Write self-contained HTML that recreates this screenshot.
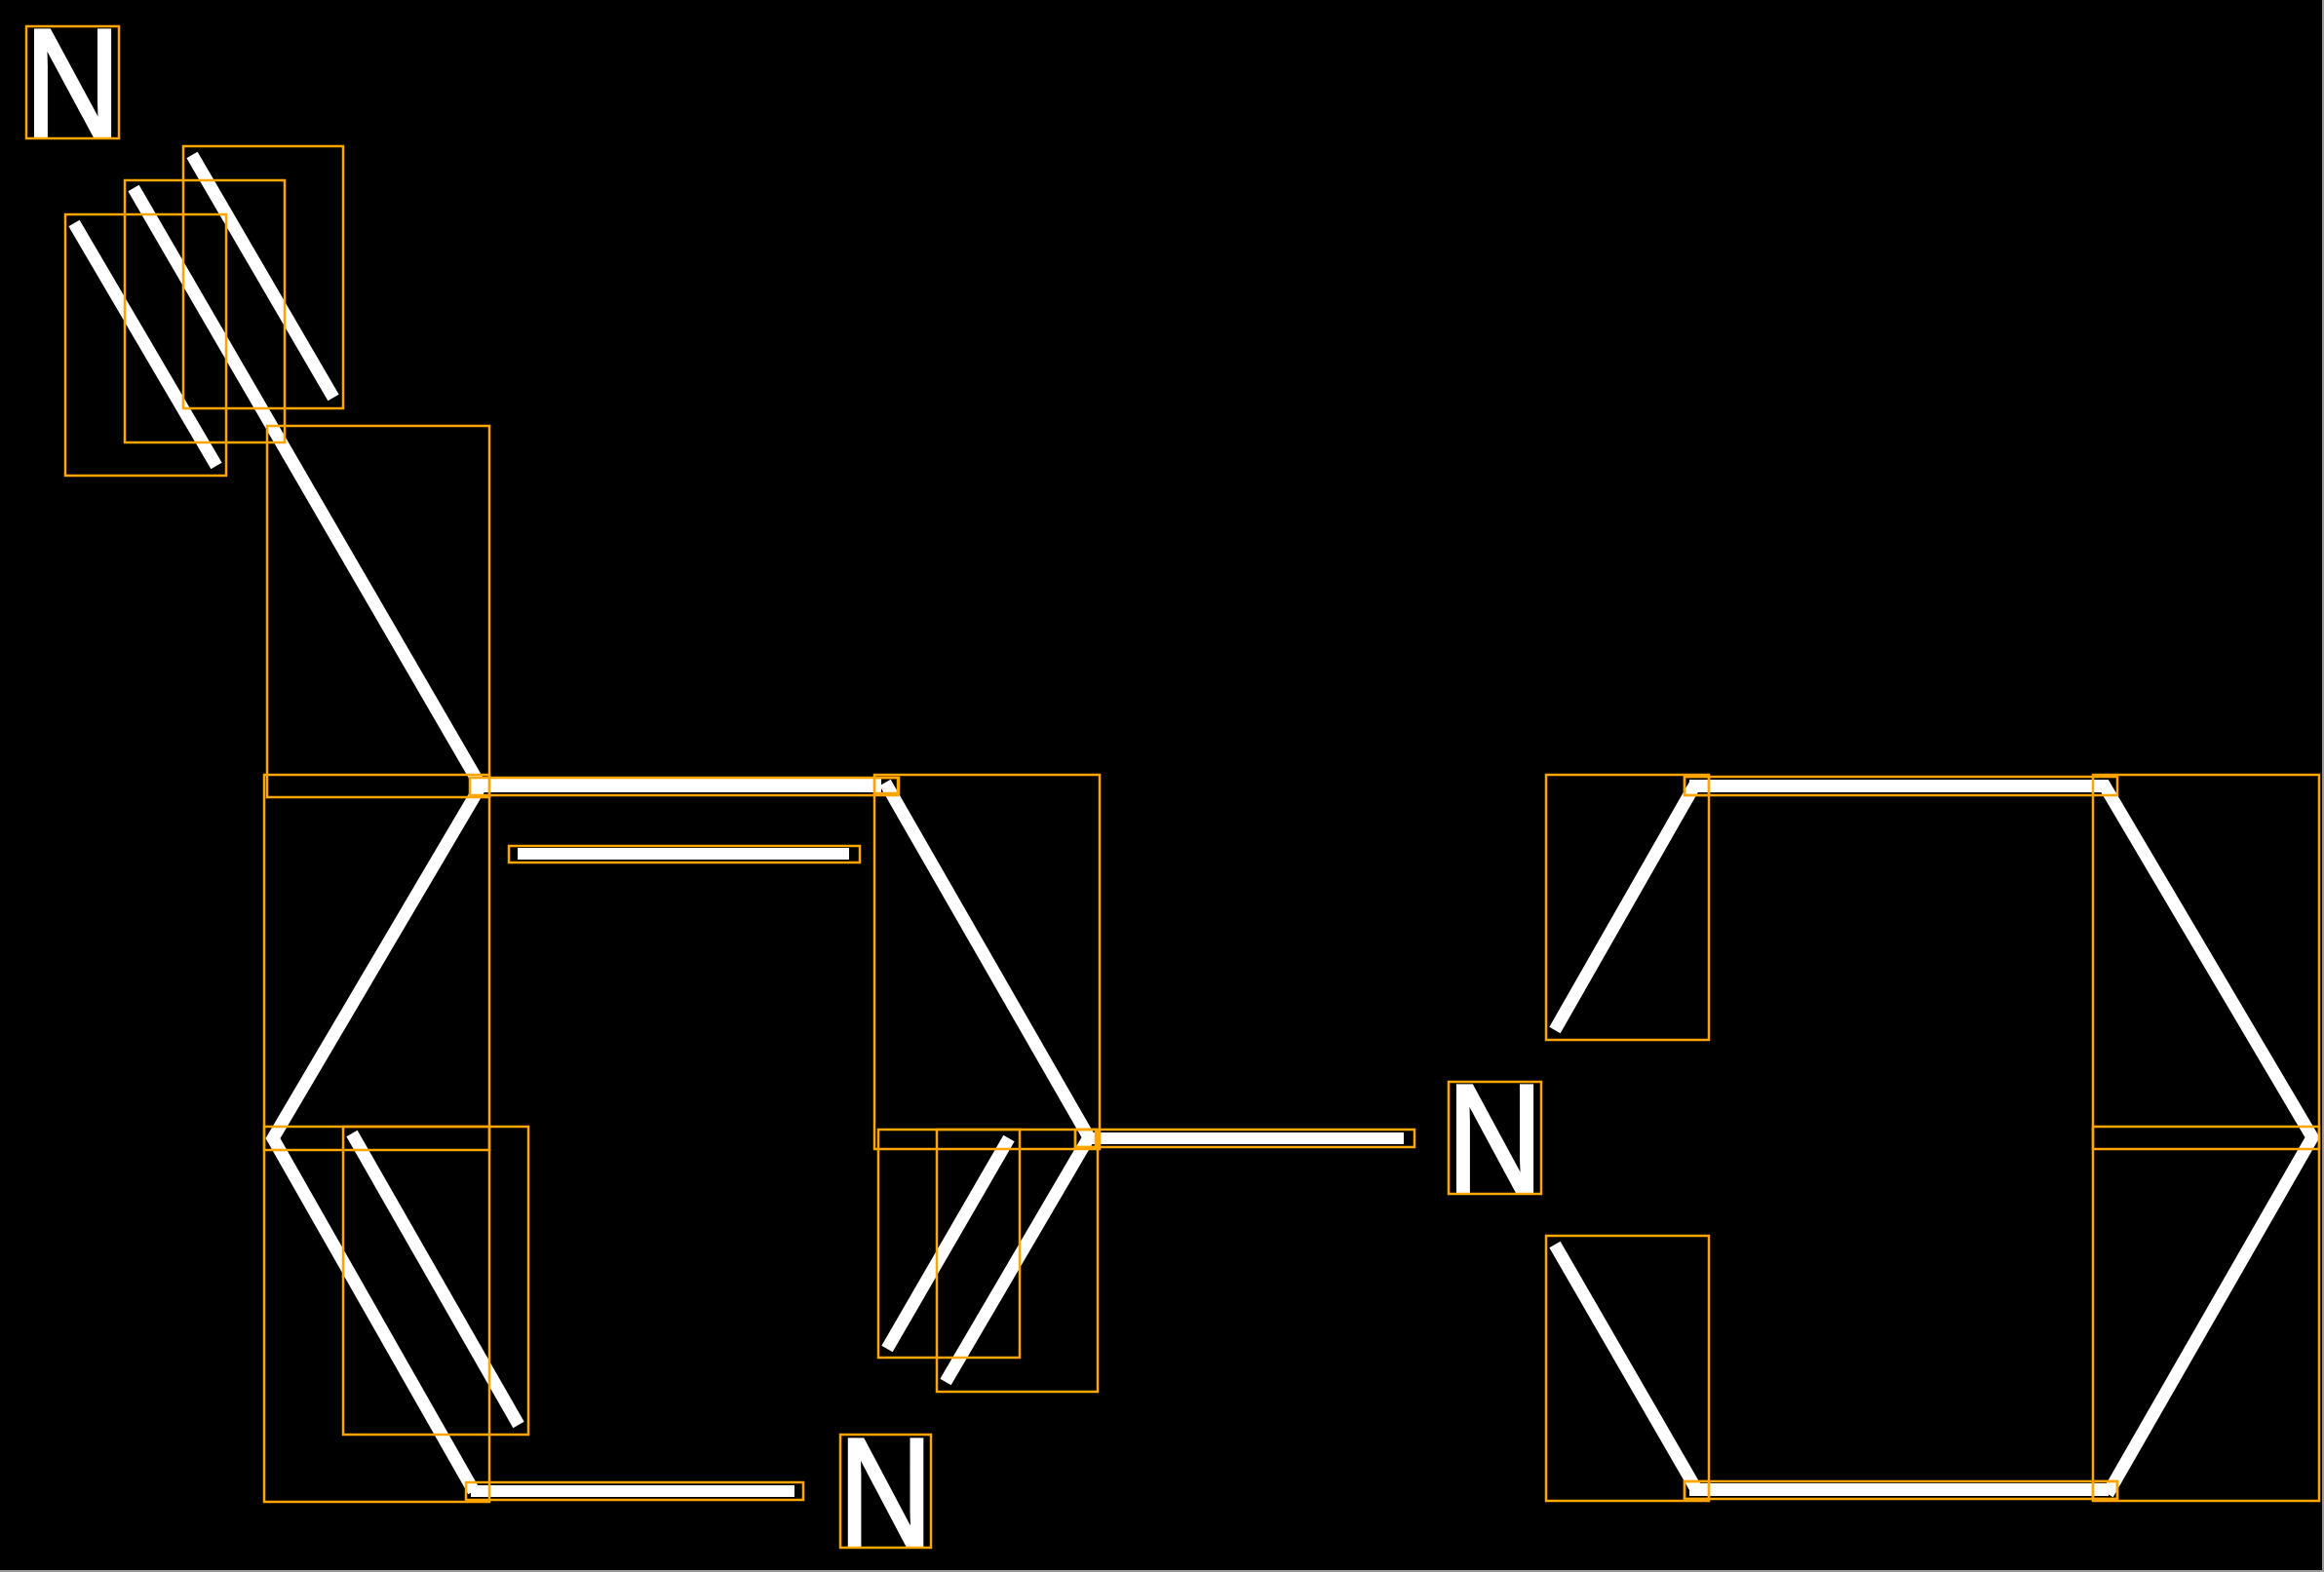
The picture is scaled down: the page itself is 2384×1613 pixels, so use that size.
<!DOCTYPE html>
<html><head><meta charset="utf-8"><style>
html,body{margin:0;padding:0;background:#000;}
svg{display:block;}
</style></head><body>
<svg width="2384" height="1613" viewBox="0 0 2384 1613" xmlns="http://www.w3.org/2000/svg">
<rect x="0" y="0" width="2384" height="1613" fill="#000"/>
<g stroke="#fff" stroke-width="13" fill="none" stroke-linecap="butt" stroke-linejoin="miter">
<line x1="76" y1="229" x2="222" y2="478"/>
<line x1="137" y1="193" x2="491" y2="803"/>
<line x1="197" y1="159" x2="342" y2="408"/>
<polyline points="491,810 280,1168 486,1530"/>
<line x1="361" y1="1163" x2="532" y2="1462"/>
<polyline points="908,803 1117,1167 970,1418"/>
<line x1="1035" y1="1168" x2="910" y2="1384"/>
<line x1="1740" y1="803" x2="1595" y2="1057"/>
<line x1="1595" y1="1277" x2="1740" y2="1528"/>
<polyline points="2157,803 2372,1167 2162,1533"/>
</g>
<g fill="#fff">
<rect x="483" y="799" width="421" height="14"/>
<rect x="531" y="870" width="340" height="12"/>
<rect x="483" y="1524" width="332" height="12"/>
<rect x="1110" y="1162" width="330" height="12"/>
<rect x="1733" y="800" width="430" height="13"/>
<rect x="1733" y="1522" width="430" height="13"/>
</g>
<g fill="#fff" stroke="#fff" stroke-width="3" font-family="Liberation Sans, sans-serif" font-size="160">
<text x="25" y="141" textLength="99" lengthAdjust="spacingAndGlyphs">N</text>
<text x="860" y="1587" textLength="97" lengthAdjust="spacingAndGlyphs">N</text>
<text x="1484" y="1224" textLength="99" lengthAdjust="spacingAndGlyphs">N</text>
</g>
<g stroke="#FFA500" stroke-width="2.5" fill="none">
<rect x="27" y="27" width="95" height="115"/>
<rect x="862" y="1472" width="93" height="116"/>
<rect x="1486" y="1110" width="95" height="115"/>
<rect x="67" y="220" width="165" height="268"/>
<rect x="128" y="185" width="164" height="269"/>
<rect x="188" y="150" width="164" height="269"/>
<rect x="274" y="437" width="228" height="381"/>
<rect x="271" y="795" width="231" height="385"/>
<rect x="271" y="1156" width="231" height="385"/>
<rect x="352" y="1156" width="190" height="316"/>
<rect x="482" y="798" width="439" height="18"/>
<rect x="522" y="868" width="360" height="17"/>
<rect x="478" y="1521" width="346" height="18"/>
<rect x="897" y="795" width="231" height="384"/>
<rect x="897" y="798" width="25" height="16"/>
<rect x="901" y="1159" width="145" height="234"/>
<rect x="961" y="1159" width="165" height="269"/>
<rect x="1103" y="1159" width="348" height="18"/>
<rect x="1103" y="1159" width="21" height="18"/>
<rect x="1586" y="795" width="167" height="272"/>
<rect x="1728" y="797" width="444" height="19"/>
<rect x="1728" y="797" width="25" height="19"/>
<rect x="2147" y="795" width="232" height="384"/>
<rect x="2147" y="1156" width="232" height="384"/>
<rect x="1586" y="1268" width="167" height="272"/>
<rect x="1728" y="1520" width="444" height="18"/>
<rect x="1728" y="1520" width="25" height="18"/>
<rect x="2147" y="1520" width="25" height="18"/>
</g>
<rect x="2382" y="0" width="2" height="1613" fill="#999"/>
<rect x="0" y="1611" width="2384" height="2" fill="#999"/>
</svg>
</body></html>
